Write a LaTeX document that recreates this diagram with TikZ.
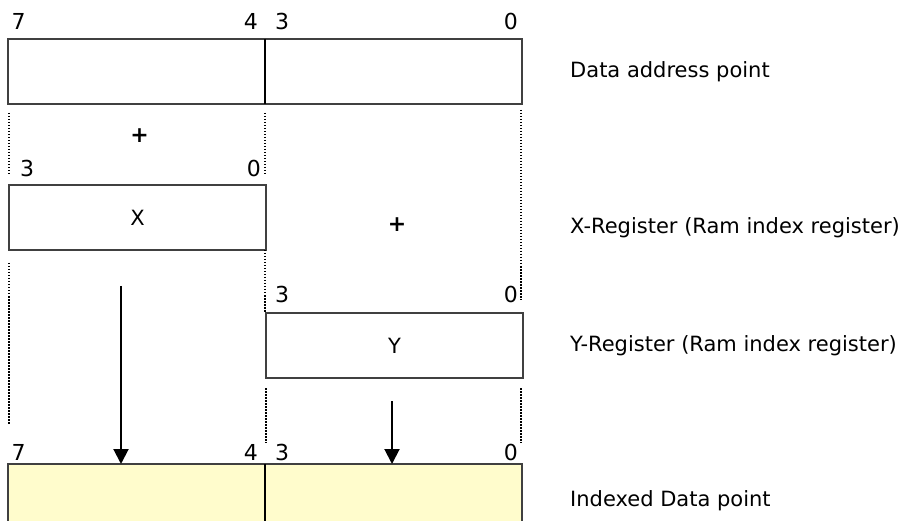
\documentclass[tikz,border=0pt]{standalone}
\usepackage{fontspec}
\setmainfont{DejaVu Sans}
\usetikzlibrary{positioning,arrows.meta}

\begin{document}
\begin{tikzpicture}[x=1pt, y=-1pt,
  reg/.style={draw=black!75, line width=1.8pt, minimum width=257pt, minimum height=65pt, inner sep=0pt, outer sep=0pt, anchor=north west, font=\fontsize{21}{25}\selectfont},
  idx/.style={reg, fill=yellow!20},
  bit/.style={inner sep=0pt, font=\fontsize{22}{26}\selectfont},
  txt/.style={inner sep=0pt, anchor=base west, font=\fontsize{21}{25}\selectfont},
  guide/.style={line width=2pt, dash pattern=on 1.5pt off 1.5pt},
  flow/.style={line width=2pt, -{Triangle[width=15pt,length=15pt]}}]
      \useasboundingbox (0,0) rectangle (910,521);

      \node[reg] (dhi) at (8,39) {};
      \node[reg, right=0pt of dhi] (dlo) {};
      \node[reg] (xr) at (9,185) {X};
      \node[reg] (yr) at (266,313) {Y};
      \node[idx] (bhi) at (8,464) {};
      \node[idx, right=0pt of bhi] (blo) {};
      \draw[line width=1.8pt] (dhi.north east) -- (dhi.south east);
      \draw[line width=1.8pt] (bhi.north east) -- (bhi.south east);

      \node[bit, anchor=base west] (d7) at (11.5,30) {7};
      \node[bit, anchor=base east] (d4) at (258,30) {4};
      \node[bit, anchor=base west] (d3) at (275,30) {3};
      \node[bit, anchor=base east] (d0) at (518,30) {0};
      \node[bit, anchor=base west] (x3) at (20,177) {3};
      \node[bit, anchor=base east] (x0) at (261,177) {0};
      \node[bit, anchor=base west] (y3) at (275,302) {3};
      \node[bit, anchor=base east] (y0) at (518,302) {0};
      \node[bit, anchor=base west] (b7) at (11.5,460) {7};
      \node[bit, anchor=base east] (b4) at (258,460) {4};
      \node[bit, anchor=base west] (b3) at (275,460) {3};
      \node[bit, anchor=base east] (b0) at (518,460) {0};

      \node[bit, font=\fontsize{22}{26}\selectfont\bfseries] (p1) at (139.5,136) {+};
      \node[bit, font=\fontsize{22}{26}\selectfont\bfseries] (p2) at (397,225) {+};

      \draw[guide] (9,113) -- (9,176);
      \draw[guide] (265,113) -- (265,176);
      \draw[guide] (521,110) -- (521,300);
      \draw[guide] (9,263) -- (9,425);
      \draw[guide] (265,250) -- (265,312);
      \draw[guide] (266,388) -- (266,443);
      \draw[guide] (521,388) -- (521,443);

      \coordinate (xs) at (121,286);
      \draw[flow] (xs) -- (xs |- bhi.north);
      \coordinate (ys) at (392,401);
      \draw[flow] (ys) -- (ys |- blo.north);

      \node[txt] (tdata) at (570,78) {Data address point};
      \node[txt] (txr) at (570,234) {X-Register (Ram index register)};
      \node[txt] (tyr) at (570,351) {Y-Register (Ram index register)};
      \node[txt] (tidx) at (570,506) {Indexed Data point};
    \end{tikzpicture}
\end{document}
